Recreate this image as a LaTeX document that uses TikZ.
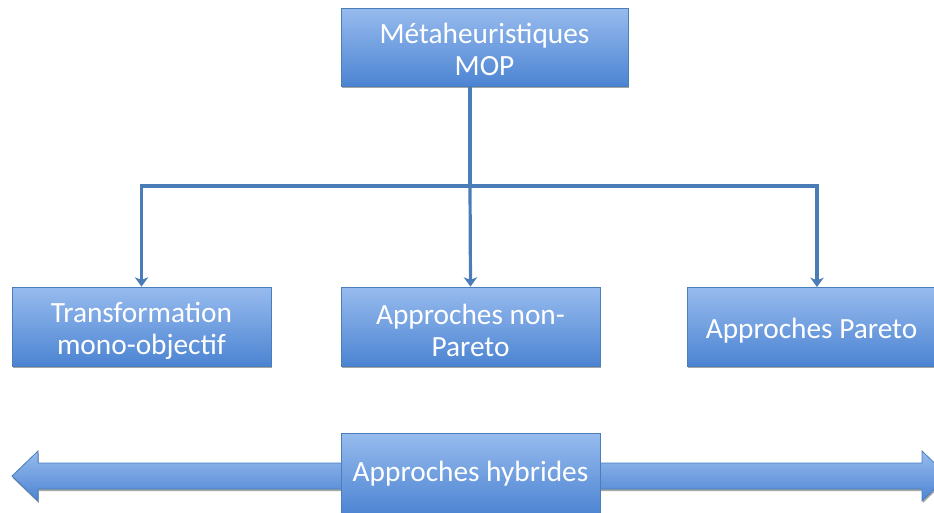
\documentclass[tikz,border=0pt]{standalone}
\usepackage{fontspec}
\setmainfont{Carlito}
\usetikzlibrary{arrows.meta,shadows}
\definecolor{bdr}{HTML}{4A7EBB}
\definecolor{topc}{HTML}{97BBEE}
\definecolor{botc}{HTML}{4C84D2}
\definecolor{lnc}{HTML}{4A7DB8}
\begin{document}
\begin{tikzpicture}[x=0.75pt,y=-0.75pt,
  box/.style={draw=bdr, line width=0.6pt, top color=topc, bottom color=botc, inner sep=0pt,
    drop shadow={shadow xshift=0.6pt, shadow yshift=-1.6pt, opacity=0.35, fill=black}},
  lbl/.style={text=white, font=\fontsize{22}{24}\selectfont, align=center, inner sep=0pt},
  link/.style={draw=lnc, line width=2.4pt, -{Stealth[length=7pt,width=10pt,inset=2pt]}},
  plain/.style={draw=lnc, line width=2.4pt}]
\useasboundingbox (0,0) rectangle (934,512);
\clip (0,0) rectangle (934,512);
% double arrow
\coordinate (la) at (12,476);
\coordinate (ra) at (948,476);
\shade[top color=topc, bottom color=botc, draw=bdr, line width=0.6pt,
  drop shadow={shadow xshift=0.6pt, shadow yshift=-1.6pt, opacity=0.35, fill=black}]
  (la) -- (38,451) -- (38,463) -- (922,463) -- (922,451) -- (ra) -- (922,501) -- (922,489)
  -- (38,489) -- (38,501) -- cycle;
% boxes
\node[box, minimum width=215.25pt, minimum height=58.5pt] (top) at (484.5,47) {};
\node[box, minimum width=194.25pt, minimum height=59.25pt] (left) at (141.5,326.5) {};
\node[box, minimum width=194.25pt, minimum height=59.25pt] (mid) at (470.5,326.5) {};
\node[box, minimum width=186.75pt, minimum height=59.25pt] (right) at (811.5,326.5) {};
\node[box, minimum width=194.25pt, minimum height=61.5pt] (hyb) at (470.5,474) {};
% labels
\node[lbl] (topt) at ([yshift=-1.5pt]top.center) {Métaheuristiques\\MOP};
\node[lbl] (leftt) at ([yshift=-3pt]left.center) {Transformation\\mono-objectif};
\node[lbl] (midt) at ([yshift=-3pt]mid.center) {Approches non-\\Pareto};
\node[lbl] (rightt) at ([yshift=-3.5pt]right.center) {Approches Pareto};
\node[lbl] (hybt) at ([yshift=0pt]hyb.center) {Approches hybrides};
% connectors
\coordinate (j) at (470,186);
\coordinate (rt) at (817,287);
\draw[plain] (top.south -| j) -- (j);
\draw[link] (j) -- (mid.north);
\draw[link] (j) -| (left.north);
\draw[link] (j) -| (rt);
\end{tikzpicture}
\end{document}
